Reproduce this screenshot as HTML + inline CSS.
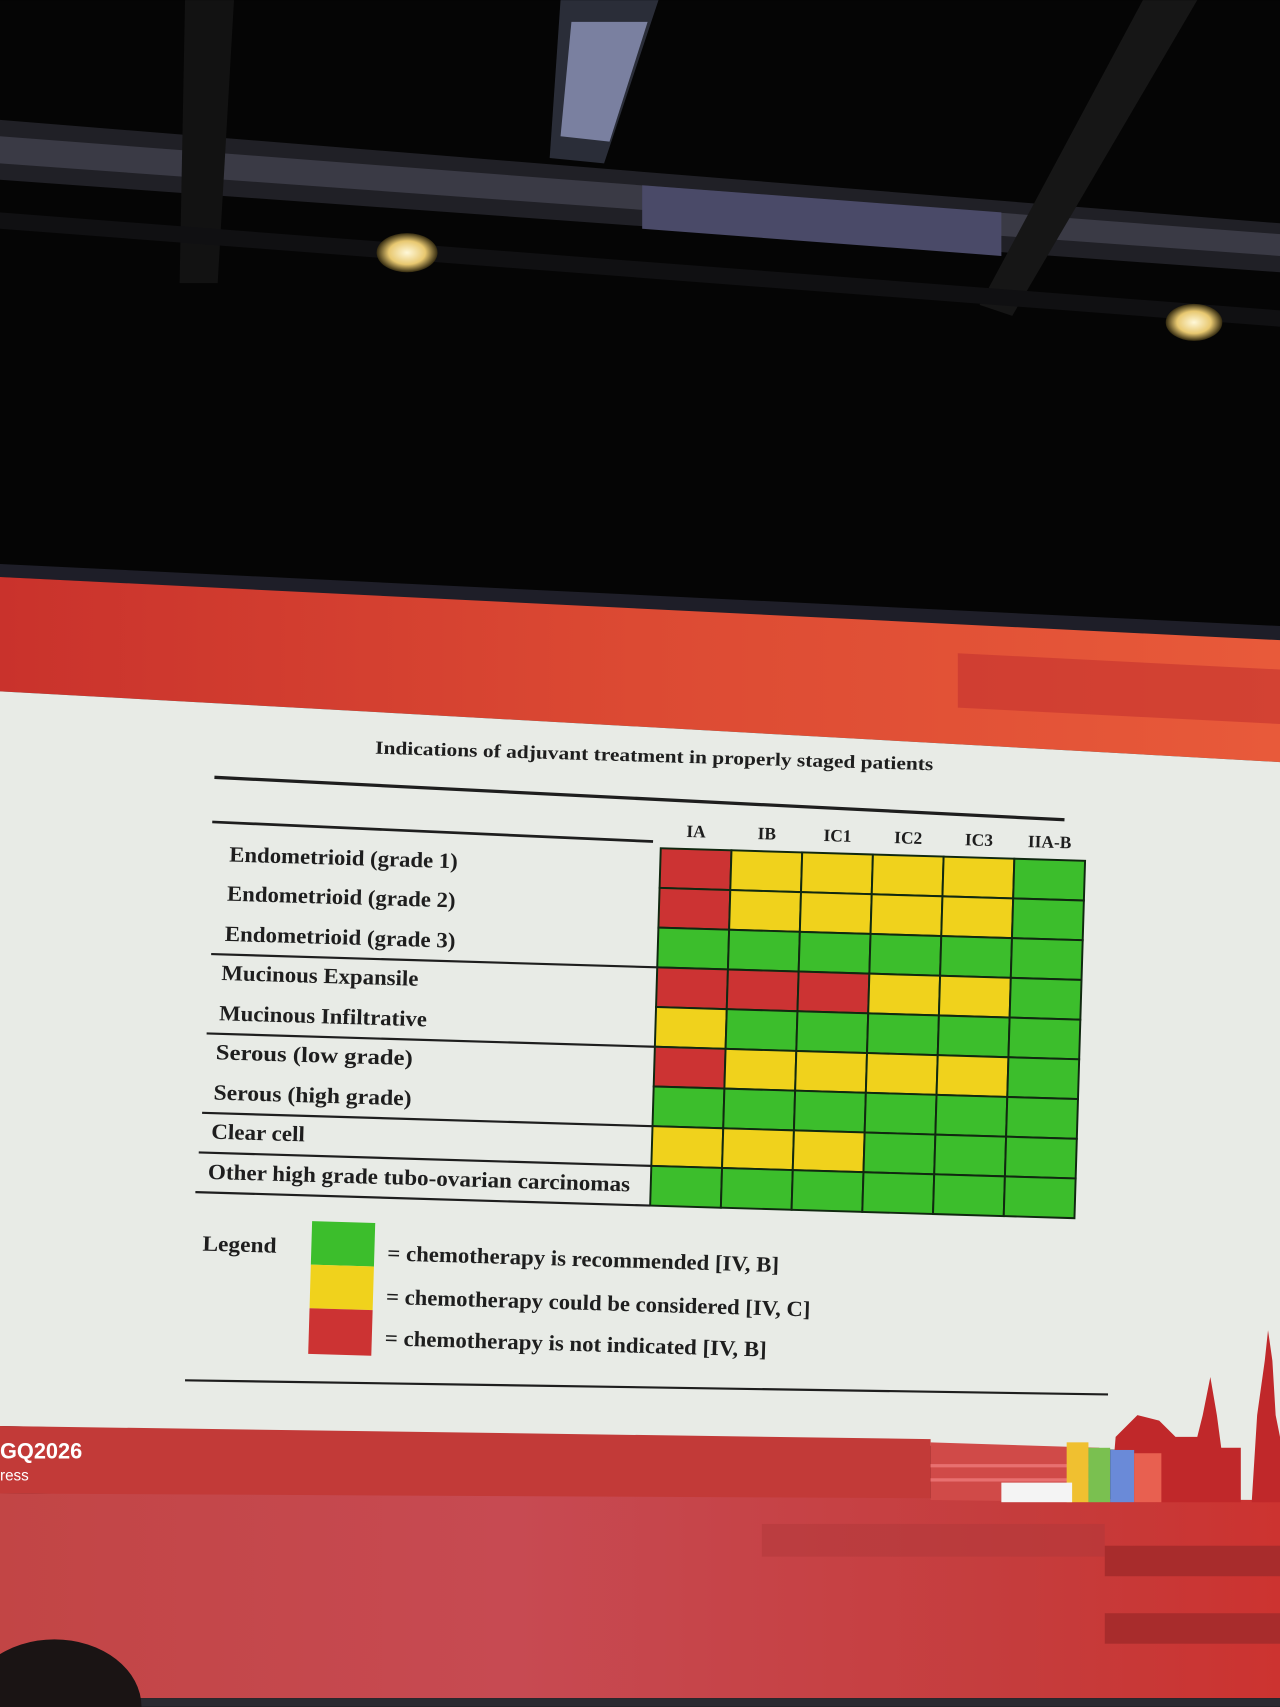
<!DOCTYPE html>
<html><head><meta charset="utf-8"><style>
html,body{margin:0;padding:0;background:#000;}
svg{display:block;}
text{font-family:"Liberation Serif",serif;font-weight:bold;fill:#1e1e1e;}
</style></head><body>
<svg width="1280" height="1707" viewBox="0 0 1176 1568" xmlns="http://www.w3.org/2000/svg">
<defs>
<linearGradient id="rt" x1="0" x2="1" y1="0" y2="0"><stop offset="0" stop-color="#c9322c"/><stop offset="0.5" stop-color="#dc4a33"/><stop offset="1" stop-color="#e85a3a"/></linearGradient>
<linearGradient id="rb" x1="0" x2="1" y1="0" y2="0"><stop offset="0" stop-color="#c24545"/><stop offset="0.4" stop-color="#c74a52"/><stop offset="0.8" stop-color="#c53c3c"/><stop offset="1" stop-color="#cc3330"/></linearGradient>
<radialGradient id="lt"><stop offset="0" stop-color="#fff8d8"/><stop offset="0.6" stop-color="#e8c870"/><stop offset="1" stop-color="#332a10"/></radialGradient>
</defs>
<rect width="1176" height="1568" fill="#050505"/>
<polygon points="0,110 1176,205 1176,250 0,165" fill="#202026"/>
<polygon points="0,125 1176,215 1176,235 0,150" fill="#3a3a45"/>
<polygon points="590,170 920,195 920,235 590,210" fill="#4a4a68"/>
<polygon points="515,0 605,0 555,150 505,145" fill="#2a2d38"/>
<polygon points="525,20 595,20 560,130 515,125" fill="#7a80a0"/>
<polygon points="170,0 215,0 200,260 165,260" fill="#121212"/>
<polygon points="1050,0 1100,0 930,290 900,280" fill="#161616"/>
<polygon points="0,195 1176,285 1176,300 0,210" fill="#101012"/>
<ellipse cx="374" cy="232" rx="28" ry="18" fill="url(#lt)"/>
<ellipse cx="1097" cy="296" rx="26" ry="17" fill="url(#lt)"/>
<polygon points="0,518 1176,575 1176,590 0,530" fill="#1e1e28"/>
<polygon points="0,530 1176,588 1176,700 0,635" fill="url(#rt)"/>
<polygon points="880,600 1176,615 1176,665 880,650" fill="#c4322e" opacity="0.6"/>
<polygon points="0,635 1176,700 1176,1335 0,1310" fill="#e8ebe6"/>
<rect x="1100" y="1320" width="76" height="62" fill="#e8ebe6"/>
<polygon points="0,1310 855,1322 855,1380 0,1372" fill="#c23a38"/>
<polygon points="0,1372 1176,1378 1176,1560 0,1560" fill="url(#rb)"/>
<rect x="0" y="1560" width="1176" height="8" fill="#2a2a30"/>
<polygon points="855,1325 1010,1330 1010,1380 855,1378" fill="#d04a48"/>
<rect x="855" y="1345" width="155" height="3" fill="#e87070"/>
<rect x="855" y="1358" width="155" height="3" fill="#e87070"/>
<rect x="1015" y="1420" width="161" height="28" fill="#a82c2c"/>
<rect x="1015" y="1482" width="161" height="28" fill="#a82c2c"/>
<rect x="700" y="1400" width="315" height="30" fill="#b0383a" opacity="0.5"/>
<ellipse cx="50" cy="1568" rx="80" ry="62" fill="#1a1414"/>
<text x="0" y="1340" style="fill:#fff;font-family:'Liberation Sans',sans-serif;font-size:20px">GQ2026</text>
<text x="0" y="1360" style="fill:#fff;font-family:'Liberation Sans',sans-serif;font-size:14px;font-weight:normal">ress</text>
<polygon points="1020,1380 1025,1320 1045,1300 1065,1305 1080,1320 1100,1320 1105,1300 1112,1265 1118,1300 1122,1330 1140,1330 1140,1380" fill="#c0282a"/>
<polygon points="1150,1380 1155,1300 1162,1250 1165,1222 1169,1250 1172,1300 1176,1320 1176,1380" fill="#c0282a"/>
<rect x="980" y="1325" width="20" height="55" fill="#f0c030"/>
<rect x="1000" y="1330" width="20" height="50" fill="#7ac050"/>
<rect x="1020" y="1332" width="22" height="48" fill="#6a8ad8"/>
<rect x="1042" y="1335" width="25" height="45" fill="#e86050"/>
<rect x="920" y="1362" width="65" height="18" fill="#f4f4f4"/>
<line x1="197" y1="714" x2="978" y2="753" stroke="#1e1e1e" stroke-width="3"/>
<line x1="195" y1="755" x2="600" y2="773" stroke="#1e1e1e" stroke-width="2.5"/>
<line x1="170" y1="1268" x2="1018" y2="1281" stroke="#1e1e1e" stroke-width="2"/>
<g transform="rotate(1.7,600,950)">
<text x="337" y="700" font-size="17" textLength="513" lengthAdjust="spacingAndGlyphs">Indications of adjuvant treatment in properly staged patients</text>
<g font-size="16" text-anchor="middle" style="font-weight:normal">
<text x="634" y="768">IA</text><text x="699" y="768">IB</text><text x="764" y="768">IC1</text><text x="829" y="768">IC2</text><text x="894" y="768">IC3</text><text x="959" y="768">IIA-B</text>
</g>
<g stroke="#102810" stroke-width="1.8">
<rect x="602" y="779" width="65" height="36.5" fill="#cc3333"/><rect x="667" y="779" width="65" height="36.5" fill="#f0d21c"/><rect x="732" y="779" width="65" height="36.5" fill="#f0d21c"/><rect x="797" y="779" width="65" height="36.5" fill="#f0d21c"/><rect x="862" y="779" width="65" height="36.5" fill="#f0d21c"/><rect x="927" y="779" width="65" height="36.5" fill="#3cbe2c"/>
<rect x="602" y="815.5" width="65" height="36.5" fill="#cc3333"/><rect x="667" y="815.5" width="65" height="36.5" fill="#f0d21c"/><rect x="732" y="815.5" width="65" height="36.5" fill="#f0d21c"/><rect x="797" y="815.5" width="65" height="36.5" fill="#f0d21c"/><rect x="862" y="815.5" width="65" height="36.5" fill="#f0d21c"/><rect x="927" y="815.5" width="65" height="36.5" fill="#3cbe2c"/>
<rect x="602" y="852" width="65" height="36.5" fill="#3cbe2c"/><rect x="667" y="852" width="65" height="36.5" fill="#3cbe2c"/><rect x="732" y="852" width="65" height="36.5" fill="#3cbe2c"/><rect x="797" y="852" width="65" height="36.5" fill="#3cbe2c"/><rect x="862" y="852" width="65" height="36.5" fill="#3cbe2c"/><rect x="927" y="852" width="65" height="36.5" fill="#3cbe2c"/>
<rect x="602" y="888.5" width="65" height="36.5" fill="#cc3333"/><rect x="667" y="888.5" width="65" height="36.5" fill="#cc3333"/><rect x="732" y="888.5" width="65" height="36.5" fill="#cc3333"/><rect x="797" y="888.5" width="65" height="36.5" fill="#f0d21c"/><rect x="862" y="888.5" width="65" height="36.5" fill="#f0d21c"/><rect x="927" y="888.5" width="65" height="36.5" fill="#3cbe2c"/>
<rect x="602" y="925" width="65" height="36.5" fill="#f0d21c"/><rect x="667" y="925" width="65" height="36.5" fill="#3cbe2c"/><rect x="732" y="925" width="65" height="36.5" fill="#3cbe2c"/><rect x="797" y="925" width="65" height="36.5" fill="#3cbe2c"/><rect x="862" y="925" width="65" height="36.5" fill="#3cbe2c"/><rect x="927" y="925" width="65" height="36.5" fill="#3cbe2c"/>
<rect x="602" y="961.5" width="65" height="36.5" fill="#cc3333"/><rect x="667" y="961.5" width="65" height="36.5" fill="#f0d21c"/><rect x="732" y="961.5" width="65" height="36.5" fill="#f0d21c"/><rect x="797" y="961.5" width="65" height="36.5" fill="#f0d21c"/><rect x="862" y="961.5" width="65" height="36.5" fill="#f0d21c"/><rect x="927" y="961.5" width="65" height="36.5" fill="#3cbe2c"/>
<rect x="602" y="998" width="65" height="36.5" fill="#3cbe2c"/><rect x="667" y="998" width="65" height="36.5" fill="#3cbe2c"/><rect x="732" y="998" width="65" height="36.5" fill="#3cbe2c"/><rect x="797" y="998" width="65" height="36.5" fill="#3cbe2c"/><rect x="862" y="998" width="65" height="36.5" fill="#3cbe2c"/><rect x="927" y="998" width="65" height="36.5" fill="#3cbe2c"/>
<rect x="602" y="1034.5" width="65" height="36.5" fill="#f0d21c"/><rect x="667" y="1034.5" width="65" height="36.5" fill="#f0d21c"/><rect x="732" y="1034.5" width="65" height="36.5" fill="#f0d21c"/><rect x="797" y="1034.5" width="65" height="36.5" fill="#3cbe2c"/><rect x="862" y="1034.5" width="65" height="36.5" fill="#3cbe2c"/><rect x="927" y="1034.5" width="65" height="36.5" fill="#3cbe2c"/>
<rect x="602" y="1071" width="65" height="36.5" fill="#3cbe2c"/><rect x="667" y="1071" width="65" height="36.5" fill="#3cbe2c"/><rect x="732" y="1071" width="65" height="36.5" fill="#3cbe2c"/><rect x="797" y="1071" width="65" height="36.5" fill="#3cbe2c"/><rect x="862" y="1071" width="65" height="36.5" fill="#3cbe2c"/><rect x="927" y="1071" width="65" height="36.5" fill="#3cbe2c"/>
</g>
<g stroke="#1e1e1e" stroke-width="2">
<line x1="192" y1="888.5" x2="602" y2="888.5"/>
<line x1="190" y1="961.5" x2="602" y2="961.5"/>
<line x1="188" y1="1034.5" x2="602" y2="1034.5"/>
<line x1="186" y1="1071" x2="602" y2="1071"/>
<line x1="184" y1="1107.5" x2="602" y2="1107.5"/>
</g>
<g font-size="20" lengthAdjust="spacingAndGlyphs">
<text x="206" y="803" textLength="210" lengthAdjust="spacingAndGlyphs">Endometrioid (grade 1)</text>
<text x="205" y="839" textLength="210" lengthAdjust="spacingAndGlyphs">Endometrioid (grade 2)</text>
<text x="204" y="876" textLength="212" lengthAdjust="spacingAndGlyphs">Endometrioid (grade 3)</text>
<text x="202" y="912" textLength="181" lengthAdjust="spacingAndGlyphs">Mucinous Expansile</text>
<text x="201" y="949" textLength="191" lengthAdjust="spacingAndGlyphs">Mucinous Infiltrative</text>
<text x="199" y="985" textLength="181" lengthAdjust="spacingAndGlyphs">Serous (low grade)</text>
<text x="198" y="1022" textLength="182" lengthAdjust="spacingAndGlyphs">Serous (high grade)</text>
<text x="197" y="1058" textLength="86" lengthAdjust="spacingAndGlyphs">Clear cell</text>
<text x="195" y="1095" textLength="388" lengthAdjust="spacingAndGlyphs">Other high grade tubo-ovarian carcinomas</text>
<text x="192" y="1161" textLength="68" lengthAdjust="spacingAndGlyphs">Legend</text>
</g>
<rect x="292" y="1131" width="58" height="40" fill="#3cbe2c"/>
<rect x="292" y="1171" width="58" height="40" fill="#f0d21c"/>
<rect x="292" y="1211" width="58" height="42" fill="#cc3333"/>
<g font-size="20">
<text x="362" y="1165" textLength="360" lengthAdjust="spacingAndGlyphs">= chemotherapy is recommended [IV, B]</text>
<text x="362" y="1205" textLength="390" lengthAdjust="spacingAndGlyphs">= chemotherapy could be considered [IV, C]</text>
<text x="362" y="1243" textLength="351" lengthAdjust="spacingAndGlyphs">= chemotherapy is not indicated [IV, B]</text>
</g>
</g>
</svg>
</body></html>
